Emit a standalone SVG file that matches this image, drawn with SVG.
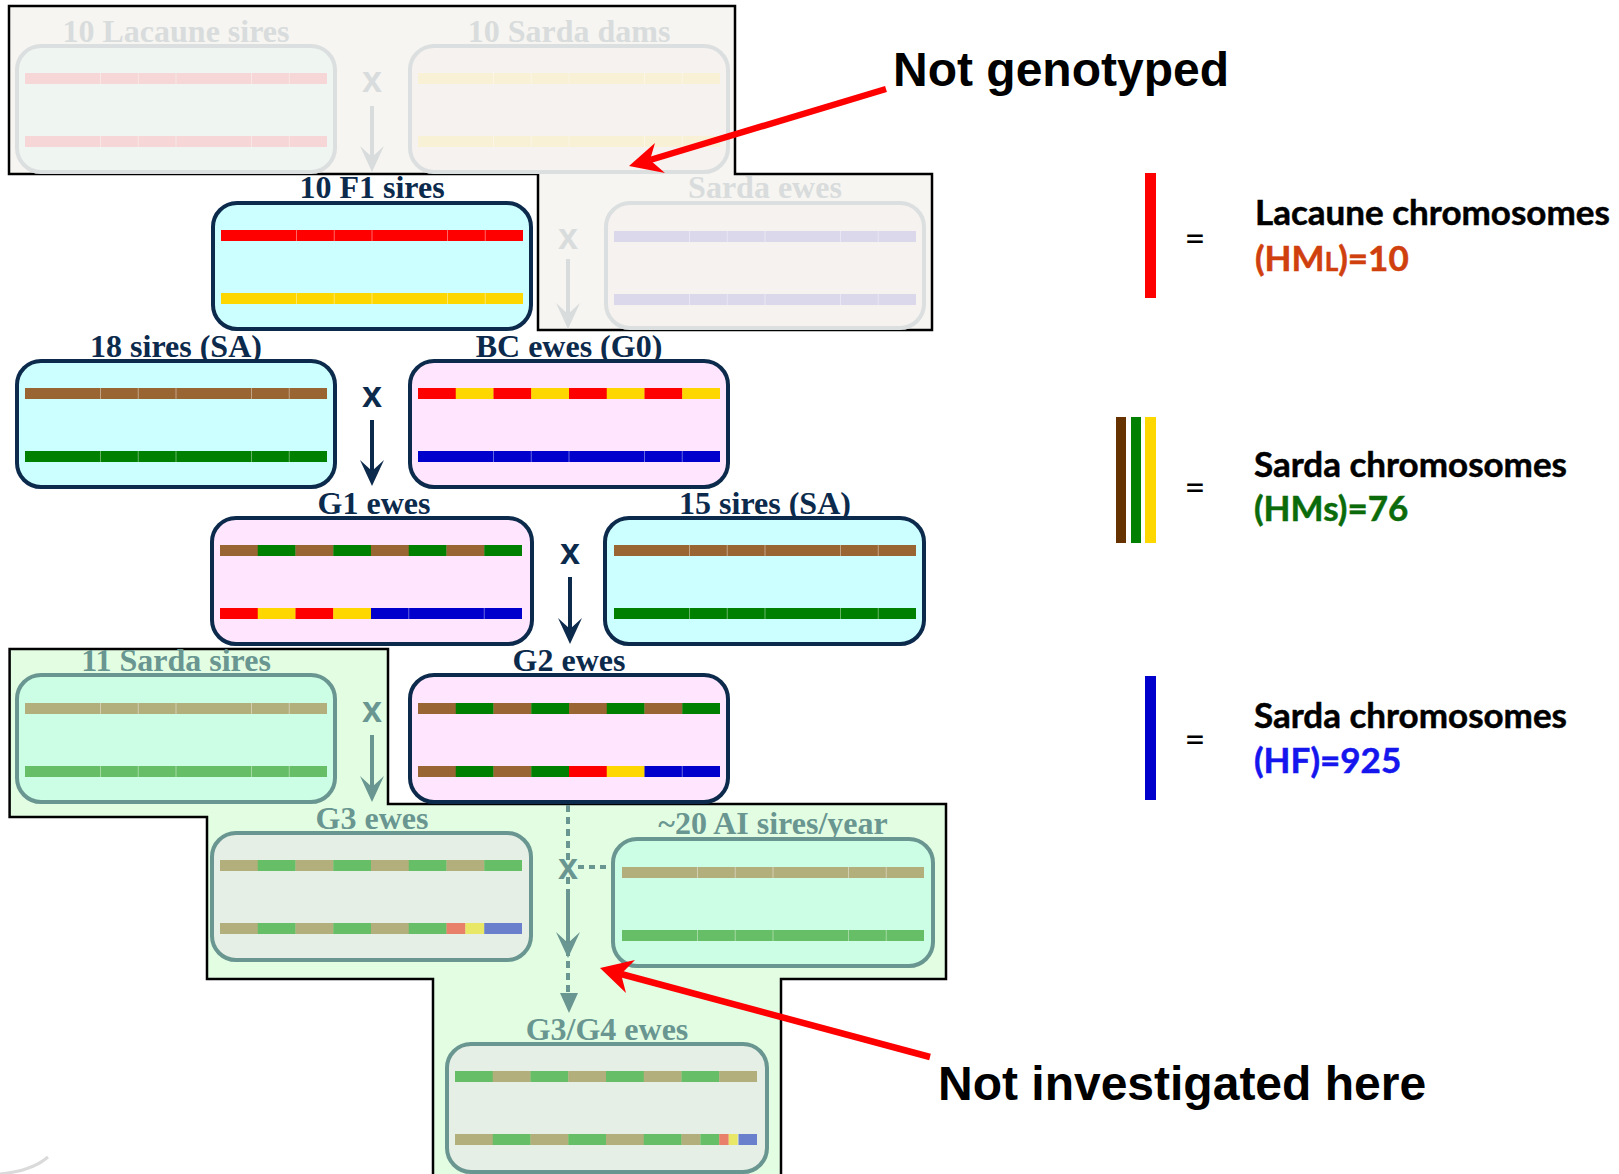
<svg xmlns="http://www.w3.org/2000/svg" width="1619" height="1174" viewBox="0 0 1619 1174">
<style>
.lab{font-family:"Liberation Serif",serif;font-weight:bold;font-size:32px;text-anchor:middle}
.xs{font-family:"Liberation Sans",sans-serif;font-weight:bold;font-size:36px;text-anchor:middle}
.big{font-family:"Liberation Sans",sans-serif;font-weight:bold;font-size:48px;fill:#000}
.leg{font-family:Lato,"Open Sans",sans-serif;font-weight:bold;font-size:35px;stroke-width:0.5px}
.eq{font-family:Lato,"Open Sans",sans-serif;font-size:36px;text-anchor:middle;fill:#000}
.nav{fill:#0c2a4c}
.fad{fill:#d9dcdc}
.tea{fill:#699690}
.nb{stroke:#0c2a4c;stroke-width:4}
.fb{stroke:#dcdfdf;stroke-width:4}
.tb{stroke:#699690;stroke-width:4}
.cy{fill:#ccffff}.pk{fill:#ffe5fd}.mt{fill:#ccfde5}.gg{fill:#e5efe5}.fg{fill:#eff5f1}.fp{fill:#f6f2f0}
.br{fill:#996633}.gr{fill:#008000}.rd{fill:#ff0000}.yl{fill:#ffd700}.bl{fill:#0000cc}
.kh{fill:#b3af7d}.lg{fill:#66bf66}.sa{fill:#e8806a}.ly{fill:#e8e866}.lb{fill:#6a80cc}
.frd{fill:#f6d6d6}.fyl{fill:#f8f1d6}.flv{fill:#dbd8ec}
.dv{stroke:#ffffff;stroke-opacity:0.4;stroke-width:1;fill:none}
.region{stroke:#000;stroke-width:2.5}
</style>
<defs>
<path id="div" class="dv" d="M75.5,0v11M113.25,0v11M151,0v11M226.5,0v11M264.25,0v11"/>
</defs>

<!-- background regions -->
<g id="region-not-genotyped">
<polygon class="region" fill="#f6f5f1" points="9,6 735,6 735,174 932,174 932,330 538,330 538,174 9,174"/>
</g>
<g id="region-not-investigated">
<polygon class="region" fill="#e3fde3" points="9.6,649 388,649 388,804 946,804 946,979 781,979 781,1180 433,1180 433,979 207,979 207,817 9.6,817"/>
</g>
<path d="M0,1174 Q32,1171 48,1157" stroke="#dadada" stroke-width="3" fill="none"/>

<!-- connectors -->
<g id="connectors">
<text class="xs fad" x="372" y="92">x</text>
<text class="xs fad" x="568" y="249">x</text>
<text class="xs nav" x="372" y="407">x</text>
<text class="xs nav" x="570" y="564">x</text>
<text class="xs tea" x="372" y="722">x</text>
<path d="M372,106V160" stroke="#d9dcdc" stroke-width="4"/>
<polygon class="fad" points="372,172 360,146 372,157 384,146"/>
<path d="M568,259V316" stroke="#d9dcdc" stroke-width="4"/>
<polygon class="fad" points="568,329 556,303 568,314 580,303"/>
<path d="M372,420V474" stroke="#0c2a4c" stroke-width="4"/>
<polygon class="nav" points="372,486 360,460 372,471 384,460"/>
<path d="M570,577V632" stroke="#0c2a4c" stroke-width="4"/>
<polygon class="nav" points="570,644 558,618 570,629 582,618"/>
<path d="M372,735V790" stroke="#699690" stroke-width="4"/>
<polygon class="tea" points="372,802 360,776 372,787 384,776"/>
<path d="M568,805V992" stroke="#699690" stroke-width="4" stroke-dasharray="7 5" fill="none"/>
<path d="M578,867H610" stroke="#699690" stroke-width="4" stroke-dasharray="6 5" fill="none"/>
<text class="xs tea" x="568" y="879">x</text>
<path d="M568,893V946" stroke="#699690" stroke-width="4"/>
<polygon class="tea" points="568,958 556,932 568,943 580,932"/>
<polygon class="tea" points="569,1013 560,993 578,993"/>
</g>

<!-- nodes -->
<g id="node-lacaune-sires">
<text class="lab fad" x="176" y="42">10 Lacaune sires</text>
<rect class="fb fg" x="17" y="46" width="318" height="126" rx="24"/>
<rect class="frd" x="25" y="73" width="302" height="11"/><use href="#div" x="25" y="73"/>
<rect class="frd" x="25" y="136" width="302" height="11"/><use href="#div" x="25" y="136"/>
</g>
<g id="node-sarda-dams">
<text class="lab fad" x="569" y="42">10 Sarda dams</text>
<rect class="fb fp" x="410" y="46" width="318" height="126" rx="24"/>
<rect class="fyl" x="418" y="73" width="302" height="11"/><use href="#div" x="418" y="73"/>
<rect class="fyl" x="418" y="136" width="302" height="11"/><use href="#div" x="418" y="136"/>
</g>
<g id="node-f1-sires">
<text class="lab nav" x="372" y="198">10 F1 sires</text>
<rect class="nb cy" x="213" y="203" width="318" height="126" rx="24"/>
<rect class="rd" x="221" y="230" width="302" height="11"/><use href="#div" x="221" y="230"/>
<rect class="yl" x="221" y="293" width="302" height="11"/><use href="#div" x="221" y="293"/>
</g>
<g id="node-sarda-ewes">
<text class="lab fad" x="765" y="198">Sarda ewes</text>
<rect class="fb fp" x="606" y="203" width="318" height="125" rx="24"/>
<rect class="flv" x="614" y="231" width="302" height="11"/><use href="#div" x="614" y="231"/>
<rect class="flv" x="614" y="294" width="302" height="11"/><use href="#div" x="614" y="294"/>
</g>
<g id="node-18-sires">
<text class="lab nav" x="176" y="357">18 sires (SA)</text>
<rect class="nb cy" x="17" y="361" width="318" height="126" rx="24"/>
<rect class="br" x="25" y="388" width="302" height="11"/><use href="#div" x="25" y="388"/>
<rect class="gr" x="25" y="451" width="302" height="11"/><use href="#div" x="25" y="451"/>
</g>
<g id="node-bc-ewes">
<text class="lab nav" x="569" y="357">BC ewes (G0)</text>
<rect class="nb pk" x="410" y="361" width="318" height="126" rx="24"/>
<g transform="translate(418,388)">
<rect class="rd" x="0" width="38" height="11"/><rect class="yl" x="37.75" width="38" height="11"/><rect class="rd" x="75.5" width="38" height="11"/><rect class="yl" x="113.25" width="38" height="11"/><rect class="rd" x="151" width="38" height="11"/><rect class="yl" x="188.75" width="38" height="11"/><rect class="rd" x="226.5" width="38" height="11"/><rect class="yl" x="264.25" width="37.75" height="11"/>
</g>
<rect class="bl" x="418" y="451" width="302" height="11"/><use href="#div" x="418" y="451"/>
</g>
<g id="node-g1-ewes">
<text class="lab nav" x="374" y="514">G1 ewes</text>
<rect class="nb pk" x="212" y="518" width="320" height="126" rx="24"/>
<g transform="translate(220,545)">
<rect class="br" x="0" width="38" height="11"/><rect class="gr" x="37.75" width="38" height="11"/><rect class="br" x="75.5" width="38" height="11"/><rect class="gr" x="113.25" width="38" height="11"/><rect class="br" x="151" width="38" height="11"/><rect class="gr" x="188.75" width="38" height="11"/><rect class="br" x="226.5" width="38" height="11"/><rect class="gr" x="264.25" width="37.75" height="11"/>
</g>
<g transform="translate(220,608)">
<rect class="rd" x="0" width="38" height="11"/><rect class="yl" x="37.75" width="38" height="11"/><rect class="rd" x="75.5" width="38" height="11"/><rect class="yl" x="113.25" width="38" height="11"/><rect class="bl" x="151" width="151" height="11"/>
<path class="dv" d="M188.75,0v11M264.25,0v11"/>
</g>
</g>
<g id="node-15-sires">
<text class="lab nav" x="765" y="514">15 sires (SA)</text>
<rect class="nb cy" x="605" y="518" width="319" height="126" rx="24"/>
<rect class="br" x="614" y="545" width="302" height="11"/><use href="#div" x="614" y="545"/>
<rect class="gr" x="614" y="608" width="302" height="11"/><use href="#div" x="614" y="608"/>
</g>
<g id="node-11-sarda-sires">
<text class="lab tea" x="176" y="671">11 Sarda sires</text>
<rect class="tb mt" x="17" y="675" width="318" height="127" rx="24"/>
<rect class="kh" x="25" y="703" width="302" height="11"/><use href="#div" x="25" y="703"/>
<rect class="lg" x="25" y="766" width="302" height="11"/><use href="#div" x="25" y="766"/>
</g>
<g id="node-g2-ewes">
<text class="lab nav" x="569" y="671">G2 ewes</text>
<rect class="nb pk" x="410" y="675" width="318" height="127" rx="24"/>
<g transform="translate(418,703)">
<rect class="br" x="0" width="38" height="11"/><rect class="gr" x="37.75" width="38" height="11"/><rect class="br" x="75.5" width="38" height="11"/><rect class="gr" x="113.25" width="38" height="11"/><rect class="br" x="151" width="38" height="11"/><rect class="gr" x="188.75" width="38" height="11"/><rect class="br" x="226.5" width="38" height="11"/><rect class="gr" x="264.25" width="37.75" height="11"/>
</g>
<g transform="translate(418,766)">
<rect class="br" x="0" width="38" height="11"/><rect class="gr" x="37.75" width="38" height="11"/><rect class="br" x="75.5" width="38" height="11"/><rect class="gr" x="113.25" width="38" height="11"/><rect class="rd" x="151" width="38" height="11"/><rect class="yl" x="188.75" width="38" height="11"/><rect class="bl" x="226.5" width="75.5" height="11"/>
<path class="dv" d="M264.25,0v11"/>
</g>
</g>
<g id="node-g3-ewes">
<text class="lab tea" x="372" y="829">G3 ewes</text>
<rect class="tb gg" x="212" y="833" width="319" height="127" rx="24"/>
<g transform="translate(220,860)">
<rect class="kh" x="0" width="38" height="11"/><rect class="lg" x="37.75" width="38" height="11"/><rect class="kh" x="75.5" width="38" height="11"/><rect class="lg" x="113.25" width="38" height="11"/><rect class="kh" x="151" width="38" height="11"/><rect class="lg" x="188.75" width="38" height="11"/><rect class="kh" x="226.5" width="38" height="11"/><rect class="lg" x="264.25" width="37.75" height="11"/>
</g>
<g transform="translate(220,923)">
<rect class="kh" x="0" width="38" height="11"/><rect class="lg" x="37.75" width="38" height="11"/><rect class="kh" x="75.5" width="38" height="11"/><rect class="lg" x="113.25" width="38" height="11"/><rect class="kh" x="151" width="38" height="11"/><rect class="lg" x="188.75" width="38" height="11"/><rect class="sa" x="226.5" width="19" height="11"/><rect class="ly" x="245.4" width="19" height="11"/><rect class="lb" x="264.25" width="37.75" height="11"/>
</g>
</g>
<g id="node-ai-sires">
<text class="lab tea" x="773" y="834">~20 AI sires/year</text>
<rect class="tb mt" x="613" y="839" width="320" height="127" rx="24"/>
<rect class="kh" x="622" y="867" width="302" height="11"/><use href="#div" x="622" y="867"/>
<rect class="lg" x="622" y="930" width="302" height="11"/><use href="#div" x="622" y="930"/>
</g>
<g id="node-g3g4-ewes">
<text class="lab tea" x="607" y="1040">G3/G4 ewes</text>
<rect class="tb gg" x="447" y="1044" width="320" height="128" rx="24"/>
<g transform="translate(455,1071)">
<rect class="lg" x="0" width="38" height="11"/><rect class="kh" x="37.75" width="38" height="11"/><rect class="lg" x="75.5" width="38" height="11"/><rect class="kh" x="113.25" width="38" height="11"/><rect class="lg" x="151" width="38" height="11"/><rect class="kh" x="188.75" width="38" height="11"/><rect class="lg" x="226.5" width="38" height="11"/><rect class="kh" x="264.25" width="37.75" height="11"/>
</g>
<g transform="translate(455,1134)">
<rect class="kh" x="0" width="38" height="11"/><rect class="lg" x="37.75" width="38" height="11"/><rect class="kh" x="75.5" width="38" height="11"/><rect class="lg" x="113.25" width="38" height="11"/><rect class="kh" x="151" width="38" height="11"/><rect class="lg" x="188.75" width="38" height="11"/><rect class="kh" x="226.5" width="19" height="11"/><rect class="lg" x="245.4" width="19" height="11"/><rect class="sa" x="264.25" width="9.5" height="11"/><rect class="ly" x="273.7" width="9" height="11"/><rect class="lb" x="283.5" width="18.5" height="11"/>
</g>
</g>

<!-- annotations -->
<g id="note-not-genotyped">
<path d="M886,89L650,160" stroke="#ff0000" stroke-width="6.5"/>
<polygon class="rd" points="629,166 655,143 650,160 665,173"/>
<text class="big" x="893" y="86">Not genotyped</text>
</g>
<g id="note-not-investigated">
<path d="M930,1057L621,974" stroke="#ff0000" stroke-width="6.5"/>
<polygon class="rd" points="600,968 635,960 621,974 626,993"/>
<text class="big" x="938" y="1100">Not investigated here</text>
</g>

<!-- legend -->
<g id="legend-lacaune">
<rect x="1145" y="173" width="11" height="125" fill="#ff0000"/>
<text class="eq" x="1195" y="251">=</text>
<text class="leg" x="1255" y="225" fill="#000" stroke="#000">Lacaune chromosomes</text>
<text class="leg" x="1255" y="271" fill="#d0400f" stroke="#d0400f">(HM<tspan font-size="26">L</tspan>)=10</text>
</g>
<g id="legend-sarda-hms">
<rect x="1116" y="417" width="10" height="126" fill="#663300"/>
<rect x="1131" y="417" width="10" height="126" fill="#008000"/>
<rect x="1145" y="417" width="11" height="126" fill="#ffd700"/>
<text class="eq" x="1195" y="500">=</text>
<text class="leg" x="1254" y="477" fill="#000" stroke="#000">Sarda chromosomes</text>
<text class="leg" x="1254" y="521" fill="#0b6b0b" stroke="#0b6b0b">(HMs)=76</text>
</g>
<g id="legend-sarda-hf">
<rect x="1145" y="676" width="11" height="124" fill="#0000cc"/>
<text class="eq" x="1195" y="752">=</text>
<text class="leg" x="1254" y="728" fill="#000" stroke="#000">Sarda chromosomes</text>
<text class="leg" x="1254" y="773" fill="#1515ee" stroke="#1515ee">(HF)=925</text>
</g>
</svg>
